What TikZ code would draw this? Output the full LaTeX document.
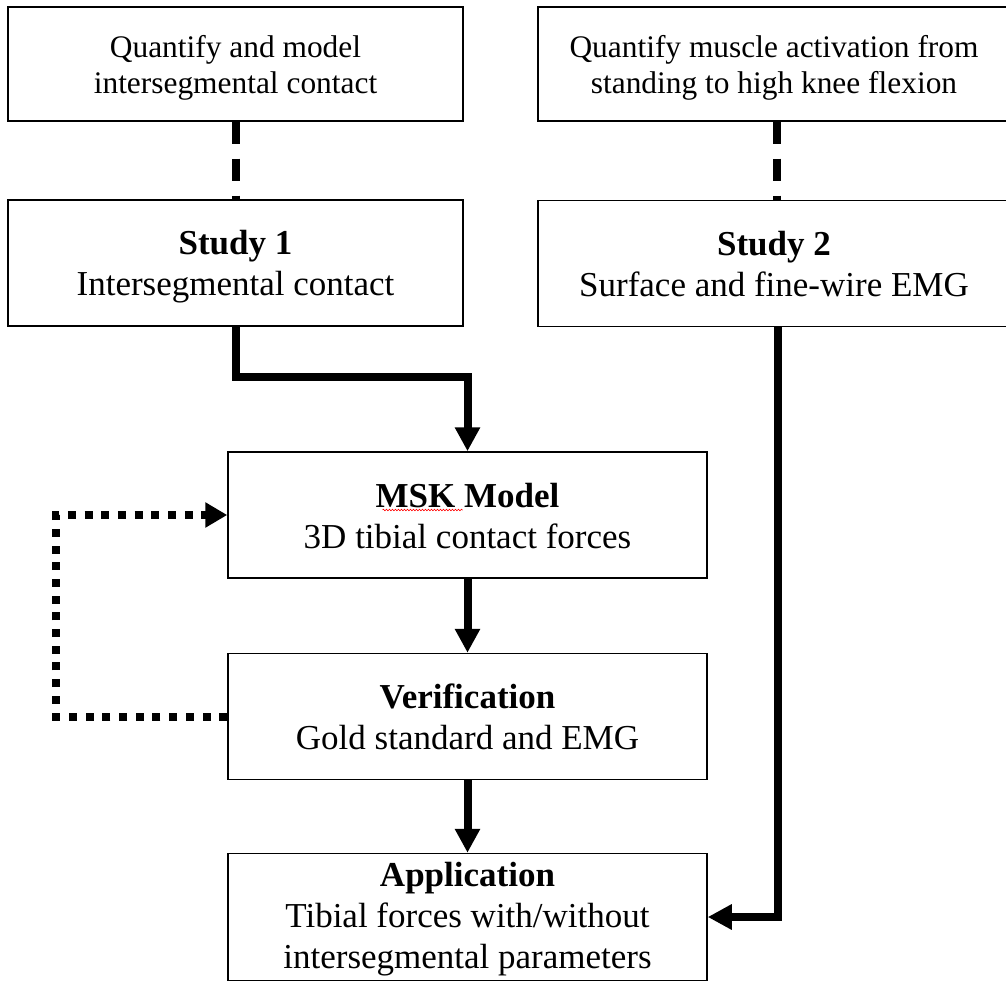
\documentclass[tikz,border=0pt]{standalone}
\usepackage{fontspec}
\setmainfont{Liberation Serif}
\usetikzlibrary{arrows.meta,decorations.pathmorphing}
\newcommand{\aimrow}{\rule{0pt}{33.5pt}}
\newcommand{\stagerow}{\rule{0pt}{37pt}}
\tikzset{
  aimbox/.style={draw,line width=1.5pt,inner sep=0pt,align=center,
    minimum width=455pt,minimum height=114pt,
    font=\fontsize{31.4}{35.5}\selectfont,
    execute at end node={\rule[-10pt]{0pt}{10pt}}},
  stagebox/.style={draw,line width=1.5pt,inner sep=0pt,align=center,
    minimum width=479pt,minimum height=126pt,
    font=\fontsize{35}{41}\selectfont,
    execute at end node={\rule[-12pt]{0pt}{12pt}}},
  flow/.style={line width=8pt,line join=miter,
    -{Triangle[length=24pt,width=24pt]}},
  cue/.style={line width=8pt,dash pattern=on 22pt off 15pt},
  loopback/.style={line width=8pt,dash pattern=on 8pt off 8.7pt,
    -{Triangle[length=22pt,width=24pt]}}
}
\begin{document}
\begin{tikzpicture}[x=1pt,y=-1pt]
\useasboundingbox (0,0) rectangle (1006,981);
% aims
\node[aimbox] (aim1) at (235.5,64) {\aimrow Quantify and model\\intersegmental contact};
\node[aimbox,minimum width=472pt] (aim2) at (774,64) {\aimrow Quantify muscle activation from\\standing to high knee flexion};
% studies
\node[stagebox,minimum width=455pt] (study1) at (235.5,263) {\stagerow\textbf{Study 1}\\Intersegmental contact};
\node[stagebox,minimum width=472pt] (study2) at (774,263.5) {\stagerow\textbf{Study 2}\\Surface and fine-wire EMG};
% model chain
\node[stagebox] (msk) at (467.5,515) {\stagerow\textbf{MSK Model}\\3D tibial contact forces};
\node[stagebox] (verif) at (467.5,716.5) {\stagerow\textbf{Verification}\\Gold standard and EMG};
\node[stagebox] (app) at (467.5,917) {\rule{0pt}{33pt}\textbf{Application}\\Tibial forces with/without\\intersegmental parameters};
\draw[red,line width=0.6pt,decorate,decoration={snake,amplitude=0.8pt,segment length=3pt}]
  ([shift={(-85,-5)}]msk.center) -- ++(80,0);
% connectors
\draw[cue] (aim1.south) -- (study1.north);
\draw[cue] ([xshift=3pt]aim2.south) -- ([xshift=3pt]study2.north);
\draw[flow] (study1.south) -- ++(0,50) -| (msk.north);
\draw[flow] (msk.south) -- (verif.north);
\draw[flow] (verif.south) -- (app.north);
\draw[flow] ([xshift=4pt]study2.south) |- (app.east);
\draw[loopback] (verif.west) -- ++(-171,0) |- (msk.west);
\end{tikzpicture}
\end{document}
